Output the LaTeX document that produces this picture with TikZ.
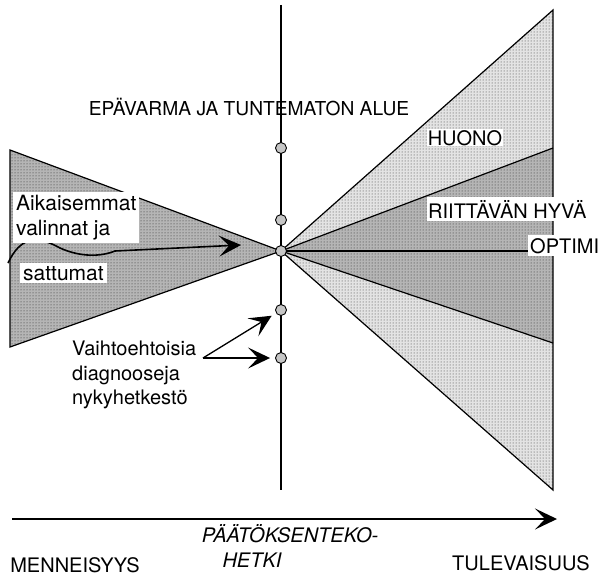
\documentclass[tikz,border=0pt]{standalone}
\usepackage{fontspec}
\setmainfont{TeX Gyre Heros}
\usetikzlibrary{arrows.meta,patterns}
\begin{document}
\begin{tikzpicture}[x=1pt,y=-1pt,
  dotnode/.style={circle,draw,fill=gray!45,minimum size=11pt,inner sep=0pt,line width=0.9pt},
  lbl/.style={font=\fontsize{20}{24}\selectfont,inner sep=0pt},
  lblb/.style={font=\fontsize{21}{25}\selectfont,inner sep=0pt},
  wbox/.style={fill=white,inner xsep=3pt,inner ysep=3pt},
  lightfill/.style={preaction={fill=gray!22},pattern=dots,pattern color=black!80},
  darkfill/.style={preaction={fill=gray!58},pattern=dots,pattern color=black!85},
  edge/.style={line width=1.2pt},
  arr/.style={-{Stealth[length=22pt,width=21pt,inset=10pt]},line width=1.3pt}]
\useasboundingbox (0,0) rectangle (601,575);
% key points
\coordinate (o) at (281,251);
\coordinate (rt) at (553,10);
\coordinate (rh) at (553,148);
\coordinate (rd) at (553,343);
\coordinate (rb) at (553,490);
\coordinate (lt) at (10,150);
\coordinate (lb) at (10,347);
\coordinate (vt) at (281,5);
\coordinate (vb) at (281,490);
% wedges
\fill[lightfill] (o) -- (rt) -- (rh) -- cycle;
\fill[lightfill] (o) -- (rd) -- (rb) -- cycle;
\fill[darkfill] (o) -- (rh) -- (rd) -- cycle;
\fill[darkfill] (o) -- (lt) -- (lb) -- cycle;
\draw[edge] (o) -- (rt) -- (rb) -- cycle;
\draw[edge] (o) -- (rh);
\draw[edge] (o) -- (rd);
\draw[edge] (lt) -- (o) -- (lb) -- cycle;
% vertical decision line
\draw[edge] (vt) -- (vb);
% labels on the right
\node[lbl,wbox,inner xsep=1pt,inner ysep=1pt,anchor=base] (huono) at (465,145) {HUONO};
\node[lbl,wbox,anchor=base west,inner xsep=1pt] (riitt) at (427,218) {RIITTÄVÄN HYVÄ};
\node[lbl,wbox,anchor=base west,inner xsep=2pt] (optimi) at (528,253) {OPTIMI};
\draw[edge] (o) -- (o -| optimi.west);
% past labels and wavy arrow
\coordinate (w0) at (8,263);
\coordinate (w1) at (60,248);
\coordinate (w2) at (115,251);
\coordinate (w3) at (241,245);
\draw[arr,line width=1.6pt] (w0) .. controls (20,238) and (35,234) .. (w1)
  .. controls (80,257) and (100,257) .. (w2) -- (w3);
\node[lblb,wbox,align=left,anchor=north west] (aik) at (13,192) {Aikaisemmat\\valinnat ja};
\node[lblb,wbox,anchor=base west] (satt) at (20,280) {sattumat};
% top label
\node[lbl,font=\fontsize{19.2}{23}\selectfont,anchor=base] (epa) at (249,115) {EPÄVARMA JA TUNTEMATON ALUE};
% dots on the line
\node[dotnode] (c1) at (281,148) {};
\node[dotnode] (c2) at (281,220) {};
\node[dotnode] (c3) at (o) {};
\node[dotnode] (c4) at (281,310) {};
\node[dotnode] (c5) at (281,358) {};
% alternative diagnoses
\node[lbl,align=left,anchor=north west,font=\fontsize{20}{24.5}\selectfont] (vai) at (72,341) {Vaihtoehtoisia\\diagnooseja\\nykyhetkestö};
\coordinate (va) at (203,358);
\draw[arr,shorten >=5pt] (va) -- (c4);
\draw[arr,shorten >=5pt] (va) -- (c5);
% time axis
\coordinate (ta) at (12,519);
\coordinate (tb) at (557,519);
\draw[arr] (ta) -- (tb);
\node[lbl,font=\fontsize{20}{24}\itshape,anchor=base] (pt1) at (290,542) {PÄÄTÖKSENTEKO-};
\node[lbl,font=\fontsize{20}{24}\itshape,anchor=base] (pt2) at (252,567) {HETKI};
\node[lbl,anchor=base] (men) at (75,572) {MENNEISYYS};
\node[lbl,anchor=base] (tul) at (521,570) {TULEVAISUUS};
\end{tikzpicture}
\end{document}
